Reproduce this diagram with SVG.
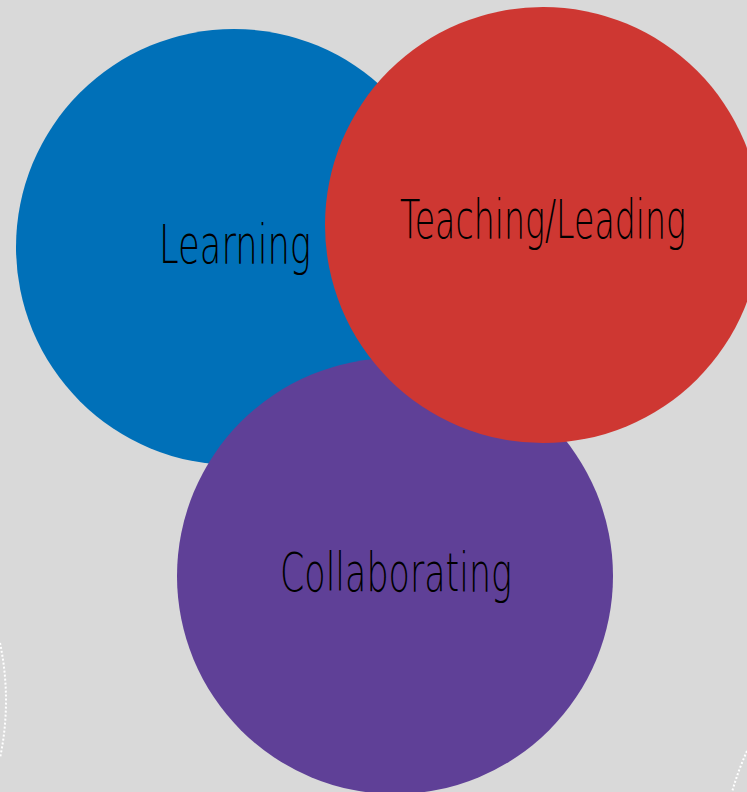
<svg xmlns="http://www.w3.org/2000/svg" width="747" height="792" viewBox="0 0 747 792">
  <style>
    .lbl { font-family: "DejaVu Sans", "Liberation Sans", sans-serif; font-weight: 200; font-stretch: condensed; font-size: 54px; fill: #000; text-anchor: middle; }
    .dots { fill: none; stroke: #ffffff; stroke-width: 2; stroke-dasharray: 2 2; }
  </style>
  <rect width="747" height="792" fill="#D9D9D9"/>
  <g id="decor">
    <path class="dots" d="M 0 643 A 279 279 0 0 1 0 758"/>
    <path class="dots" d="M 747 751 A 300 300 0 0 0 732 792"/>
  </g>
  <g id="learning">
    <circle cx="234" cy="247" r="218" fill="#0070B8"/>
    <text class="lbl" x="235" y="263" textLength="152" lengthAdjust="spacingAndGlyphs">Learning</text>
  </g>
  <g id="collaborating">
    <circle cx="395" cy="576" r="218" fill="#5F4097"/>
    <text class="lbl" x="396" y="591" textLength="232" lengthAdjust="spacingAndGlyphs">Collaborating</text>
  </g>
  <g id="teaching">
    <circle cx="543" cy="225" r="218" fill="#CE3732"/>
    <text class="lbl" x="543" y="238" textLength="286" lengthAdjust="spacingAndGlyphs">Teaching/Leading</text>
  </g>
  <g id="connectors"/>
</svg>
